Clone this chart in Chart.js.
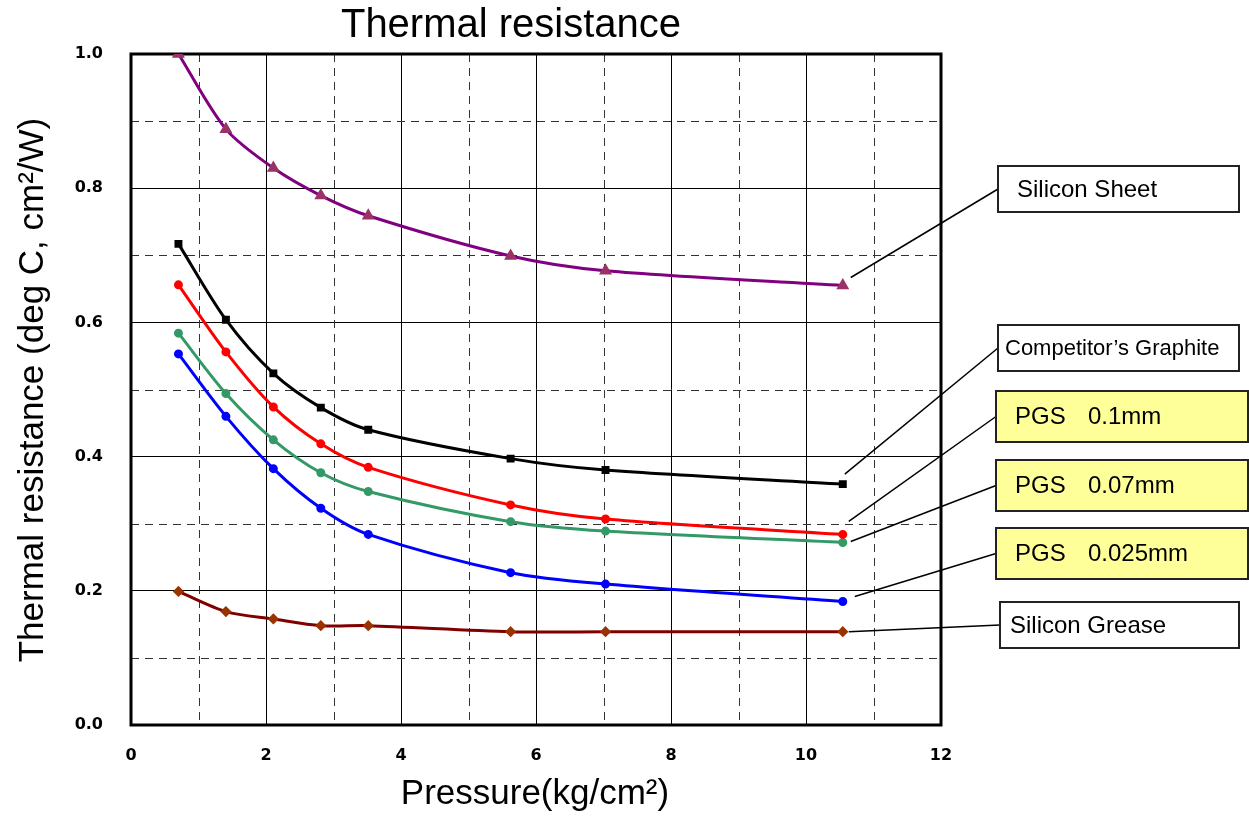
<!DOCTYPE html>
<html>
<head>
<meta charset="utf-8">
<title>Thermal resistance</title>
<script src="https://cdn.jsdelivr.net/npm/chart.js@4.4.0/dist/chart.umd.min.js"></script>
<style>
  html, body { margin: 0; padding: 0; background: #ffffff; }
  #wrap { width: 1249px; height: 816px; }
</style>
</head>
<body>
<div id="wrap"><canvas id="thermalChart" width="1249" height="816"></canvas></div>
<script>
// datos (presion en kg/cm2)
const presion = [0.703, 1.406, 2.109, 2.812, 3.515, 5.624, 7.03, 10.545];

const siliconSheet = [1.0, 0.888, 0.830, 0.789, 0.759, 0.699, 0.677, 0.655];
const competitorGraphite = [0.717, 0.604, 0.524, 0.473, 0.440, 0.397, 0.380, 0.359];
const pgs01 = [0.656, 0.556, 0.474, 0.419, 0.384, 0.328, 0.307, 0.284];
const pgs007 = [0.584, 0.494, 0.425, 0.376, 0.348, 0.303, 0.289, 0.272];
const pgs0025 = [0.553, 0.460, 0.382, 0.323, 0.284, 0.227, 0.210, 0.184];
const siliconGrease = [0.199, 0.169, 0.158, 0.148, 0.148, 0.139, 0.139, 0.139];

const xTicks = [0, 2, 4, 6, 8, 10, 12];
const yTicks = [0.0, 0.2, 0.4, 0.6, 0.8, 1.0];
const xDashed = [1, 3, 5, 7, 9, 11];
const yDashed = [0.1, 0.3, 0.5, 0.7, 0.9];

const FONT = "'Liberation Sans', Arial, sans-serif";
const TICK_FONT = "'DejaVu Sans', Arial, sans-serif";

const puntos = (valores) => presion.map((p, i) => ({ x: p, y: valores[i] }));

const serie = (label, valores, lineColor, pointColor, pointStyle, radius) => ({
    label: label,
    data: puntos(valores),
    borderColor: lineColor,
    backgroundColor: pointColor,
    pointBorderColor: pointColor,
    pointBackgroundColor: pointColor,
    pointStyle: pointStyle,
    pointRadius: radius,
    borderWidth: 3,
    tension: 0.3,
    fill: false
});

// etiquetas con linea guia (cajas a la derecha)
const etiquetas = [
    { ds: 0, parts: ['Silicon Sheet'], box: [998, 166, 241, 46], fill: '#ffffff', size: 24, tx: 1017, dx: 8, dy: -8 },
    { ds: 1, parts: ["Competitor\u2019s Graphite"], box: [998, 325, 241, 46], fill: '#ffffff', size: 22, tx: 1005, dx: 2, dy: -10 },
    { ds: 2, parts: ['PGS', '0.1mm'], box: [996, 391, 252, 51], fill: '#ffff99', size: 24, tx: 1015, dx: 6, dy: -13 },
    { ds: 3, parts: ['PGS', '0.07mm'], box: [996, 460, 252, 51], fill: '#ffff99', size: 24, tx: 1015, dx: 8, dy: -1 },
    { ds: 4, parts: ['PGS', '0.025mm'], box: [996, 528, 252, 51], fill: '#ffff99', size: 24, tx: 1015, dx: 12, dy: -5 },
    { ds: 5, parts: ['Silicon Grease'], box: [1000, 602, 239, 46], fill: '#ffffff', size: 24, tx: 1010, dx: 6, dy: 0 }
];

const gridPlugin = {
    id: 'gridPlugin',
    beforeDatasetsDraw(chart) {
        const { ctx, chartArea: a, scales: { x, y } } = chart;
        ctx.save();
        ctx.strokeStyle = '#333333';
        ctx.lineWidth = 1;
        ctx.setLineDash([8, 6]);
        xDashed.forEach(v => {
            const px = Math.round(x.getPixelForValue(v)) + 0.5;
            ctx.beginPath(); ctx.moveTo(px, a.top); ctx.lineTo(px, a.bottom); ctx.stroke();
        });
        yDashed.forEach(v => {
            const py = Math.round(y.getPixelForValue(v)) + 0.5;
            ctx.beginPath(); ctx.moveTo(a.left, py); ctx.lineTo(a.right, py); ctx.stroke();
        });
        ctx.setLineDash([]);
        // marco grueso
        ctx.strokeStyle = '#000000';
        ctx.lineWidth = 3;
        ctx.strokeRect(a.left, a.top, a.right - a.left, a.bottom - a.top);
        ctx.restore();
    },
    afterDraw(chart) {
        const { ctx } = chart;
        ctx.save();
        ctx.fillStyle = '#000000';
        // titulo
        ctx.font = '40px ' + FONT;
        ctx.textAlign = 'center';
        ctx.textBaseline = 'alphabetic';
        ctx.fillText('Thermal resistance', 511, 37);
        // titulo eje x
        ctx.font = '35px ' + FONT;
        ctx.fillText('Pressure(kg/cm\u00B2)', 535, 804);
        // titulo eje y
        ctx.save();
        ctx.translate(43, 390);
        ctx.rotate(-Math.PI / 2);
        ctx.font = '35px ' + FONT;
        ctx.fillText('Thermal resistance (deg C, cm\u00B2/W)', 0, 0);
        ctx.restore();

        // cajas y lineas guia
        etiquetas.forEach(e => {
            const meta = chart.getDatasetMeta(e.ds);
            const last = meta.data[meta.data.length - 1];
            const [bx, by, bw, bh] = e.box;
            ctx.strokeStyle = '#000000';
            ctx.lineWidth = 1.5;
            ctx.beginPath();
            ctx.moveTo(bx, by + bh / 2);
            ctx.lineTo(last.x + e.dx, last.y + e.dy);
            ctx.stroke();

            ctx.fillStyle = e.fill;
            ctx.fillRect(bx, by, bw, bh);
            ctx.strokeStyle = '#222222';
            ctx.lineWidth = 2;
            ctx.strokeRect(bx, by, bw, bh);

            ctx.fillStyle = '#000000';
            ctx.font = e.size + 'px ' + FONT;
            ctx.textAlign = 'left';
            ctx.textBaseline = 'middle';
            ctx.fillText(e.parts[0], e.tx, by + bh / 2 + 1);
            if (e.parts[1]) {
                ctx.fillText(e.parts[1], e.tx + 73, by + bh / 2 + 1);
            }
        });
        ctx.restore();
    }
};

const ctx = document.getElementById('thermalChart').getContext('2d');

new Chart(ctx, {
    type: 'line',
    data: {
        datasets: [
            serie('Silicon Sheet', siliconSheet, '#800080', '#993366', 'triangle', 4.5),
            serie("Competitor's Graphite", competitorGraphite, '#000000', '#000000', 'rect', 3.5),
            serie('PGS 0.1mm', pgs01, '#ff0000', '#ff0000', 'circle', 3),
            serie('PGS 0.07mm', pgs007, '#339966', '#339966', 'circle', 3),
            serie('PGS 0.025mm', pgs0025, '#0000ff', '#0000ff', 'circle', 3),
            serie('Silicon Grease', siliconGrease, '#800000', '#993300', 'rectRot', 3.5)
        ]
    },
    options: {
        responsive: false,
        animation: false,
        layout: { padding: { left: 0, right: 308, top: 54, bottom: 0 } },
        plugins: {
            legend: { display: false },
            tooltip: { enabled: false },
            title: { display: false }
        },
        scales: {
            x: {
                type: 'linear',
                min: xTicks[0],
                max: xTicks[xTicks.length - 1],
                afterBuildTicks: (scale) => { scale.ticks = xTicks.map(v => ({ value: v })); },
                afterFit: (scale) => { scale.height = 91; },
                border: { display: false },
                grid: { color: '#000000', lineWidth: 1, drawTicks: false },
                ticks: {
                    color: '#000000',
                    padding: 21,
                    font: { family: TICK_FONT, size: 16, weight: 'bold' },
                    callback: (v) => String(v)
                }
            },
            y: {
                min: yTicks[0],
                max: yTicks[yTicks.length - 1],
                afterBuildTicks: (scale) => { scale.ticks = yTicks.map(v => ({ value: v })); },
                afterFit: (scale) => { scale.width = 131; },
                border: { display: false },
                grid: { color: '#000000', lineWidth: 1, drawTicks: false },
                ticks: {
                    color: '#000000',
                    padding: 28,
                    font: { family: TICK_FONT, size: 16, weight: 'bold' },
                    callback: (v) => Number(v).toFixed(1)
                }
            }
        }
    },
    plugins: [gridPlugin]
});
</script>
</body>
</html>
